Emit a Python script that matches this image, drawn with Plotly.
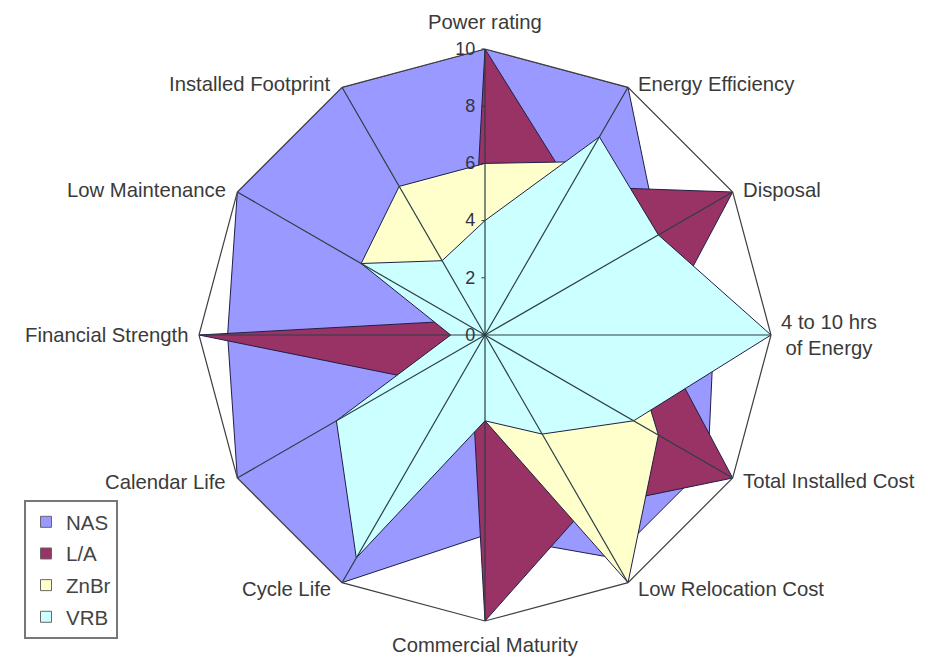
import math
import plotly.graph_objects as go

# categories, clockwise from the top
categories = ["Power rating", "Energy Efficiency", "Disposal", "4 to 10 hrs<br>of Energy",
              "Total Installed Cost", "Low Relocation Cost", "Commercial Maturity",
              "Cycle Life", "Calendar Life", "Financial Strength", "Low Maintenance",
              "Installed Footprint"]

nas = [10, 10, 7, 8, 9, 9, 7, 10, 10, 9, 10, 10]
la = [10, 6, 10, 6, 10, 7, 10, 1, 3, 10, 1, 1]
znbr = [6, 7, 5, 5, 7, 10, 3, 5, 4, 1, 5, 6]
vrb = [4, 8, 7, 10, 6, 4, 3, 9, 6, 1.2, 5, 3]

r_ticks = [0, 2, 4, 6, 8, 10]

series = [("NAS", nas, "#9999FF"), ("L/A", la, "#993366"),
          ("ZnBr", znbr, "#FFFFCC"), ("VRB", vrb, "#CCFFFF")]

W, H = 928, 660
# polar centre and radius in figure pixels
cx, cy, R = 477, 327, 286

fig = go.Figure()

# filled areas (closed by repeating the first point)
for name, vals, col in series:
    fig.add_trace(go.Scatterpolar(r=vals + vals[:1], theta=categories + categories[:1],
                                  mode="lines", fill="toself", fillcolor=col,
                                  line=dict(color="#1f1f45", width=1),
                                  name=name, showlegend=False, hoverinfo="skip"))

# spokes drawn above the fills, like the Excel chart
sp_r, sp_t = [], []
for c in categories:
    sp_r += [r_ticks[0], r_ticks[-1], None]
    sp_t += [c, c, None]
fig.add_trace(go.Scatterpolar(r=sp_r, theta=sp_t, mode="lines",
                              line=dict(color="#2b3f44", width=1.2),
                              showlegend=False, hoverinfo="skip"))

# legend entries with small square keys
for name, vals, col in series:
    fig.add_trace(go.Scatterpolar(r=[None], theta=[categories[0]], mode="markers",
                                  marker=dict(symbol="square", size=11, color=col,
                                              line=dict(color="#666666", width=1)),
                                  name=name, legendgroup=name))

# category labels placed the way Excel does it
annotations = []
n = len(categories)
for i, lab in enumerate(categories):
    a = math.radians(360 * i / n)
    s, c = math.sin(a), math.cos(a)
    px = cx + R * s
    py = cy - R * c
    if abs(s) < 0.01:
        xa = "center"
        ya = "bottom" if c > 0 else "top"
        py += -14 if c > 0 else 11
    else:
        xa = "left" if s > 0 else "right"
        ya = "middle"
        px += 8 if s > 0 else -9
        py += -4 * c if c > 0 else -7 * c
    annotations.append(dict(text=lab, x=px / W, y=1 - py / H, xref="paper", yref="paper",
                            xanchor=xa, yanchor=ya, showarrow=False, align="center",
                            font=dict(size=20.3, color="#3a3a3a")))

fig.update_layout(
    width=W, height=H,
    margin=dict(l=0, r=0, t=0, b=0),
    paper_bgcolor="white",
    font=dict(family="Liberation Sans, Arial, sans-serif", size=19, color="#333333"),
    annotations=annotations,
    polar=dict(
        domain=dict(x=[(cx - R) / W, (cx + R) / W], y=[1 - (cy + R) / H, 1 - (cy - R) / H]),
        bgcolor="white",
        gridshape="linear",
        angularaxis=dict(direction="clockwise", rotation=90, showgrid=False,
                         showline=True, linecolor="#404040", linewidth=1.2,
                         ticks="", showticklabels=False),
        radialaxis=dict(range=[0, 10], tickvals=r_ticks, angle=90, tickangle=90,
                        side="counterclockwise", showgrid=False, showline=False,
                        ticks="outside", ticklen=3, tickcolor="#333333",
                        tickfont=dict(size=18, color="#333344")),
    ),
    legend=dict(x=16 / W, y=1 - 492 / H, xanchor="left", yanchor="top",
                bordercolor="#777777", borderwidth=2, bgcolor="white",
                traceorder="grouped", tracegroupgap=2, itemwidth=30,
                font=dict(size=20.5, color="#444444")),
)

fig.write_html("out.html")
